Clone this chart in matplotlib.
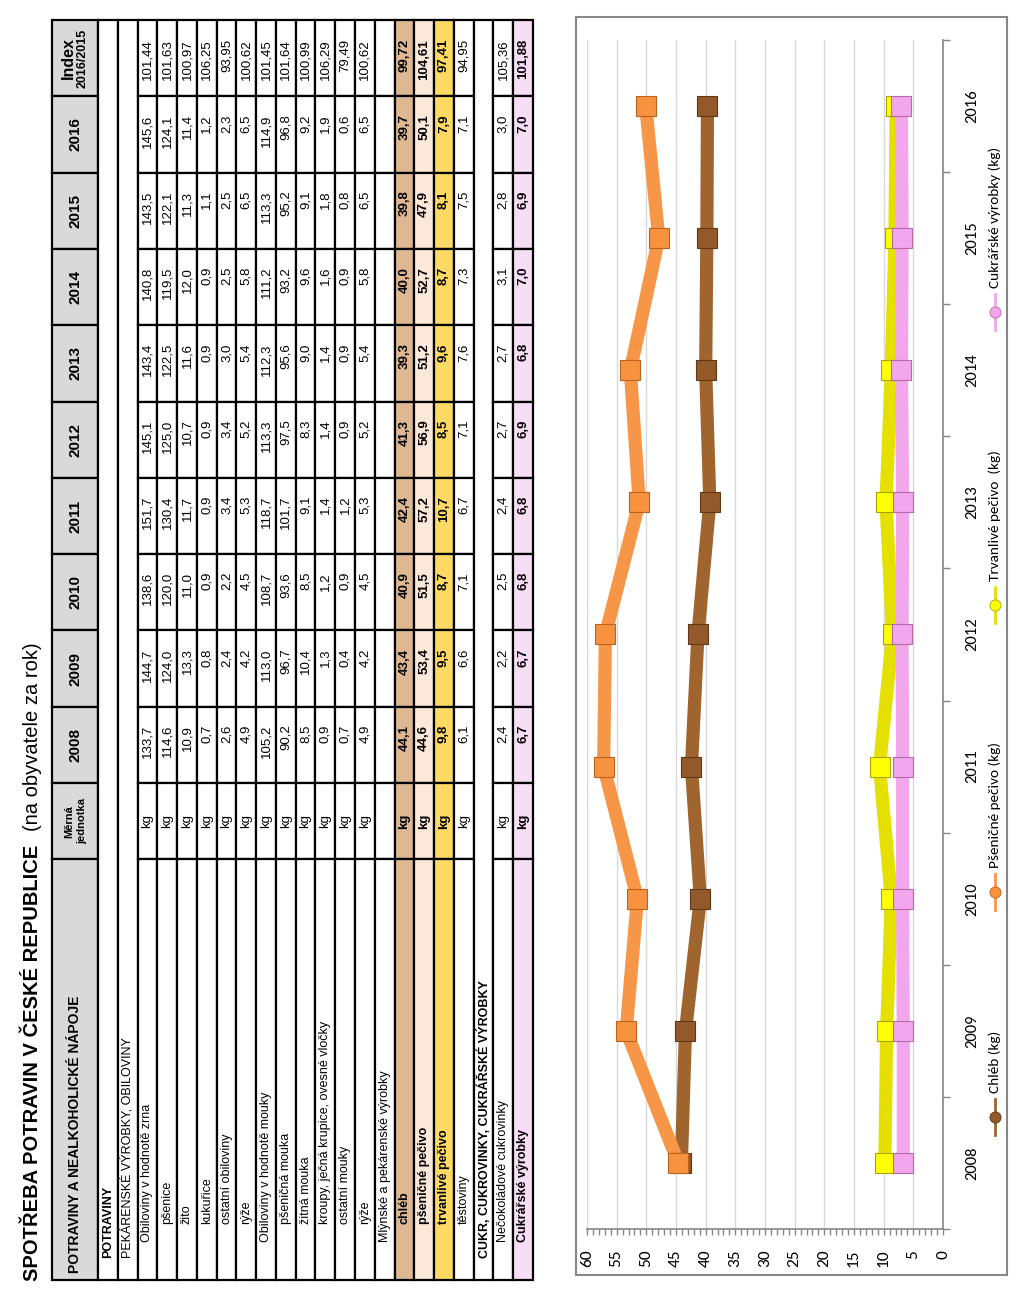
import matplotlib
matplotlib.use('Agg')
import matplotlib.pyplot as plt
from matplotlib import font_manager
from matplotlib.patches import Rectangle
from matplotlib.lines import Line2D
from matplotlib.ticker import MultipleLocator, FixedLocator

installed = {f.name for f in font_manager.fontManager.ttflist}
NARROW = 'Liberation Sans Narrow' if 'Liberation Sans Narrow' in installed else 'Liberation Sans'
CHART_FONT = 'Carlito' if 'Carlito' in installed else 'Lato'

# --- data -----------------------------------------------------------------
years = [2008, 2009, 2010, 2011, 2012, 2013, 2014, 2015, 2016]

chleb = [44.1, 43.4, 40.9, 42.4, 41.3, 39.3, 40.0, 39.8, 39.7]
psenicne_pecivo = [44.6, 53.4, 51.5, 57.2, 56.9, 51.2, 52.7, 47.9, 50.1]
trvanlive_pecivo = [9.8, 9.5, 8.7, 10.7, 8.5, 9.6, 8.7, 8.1, 7.9]
cukrarske_vyrobky = [6.7, 6.7, 6.8, 6.8, 6.9, 6.8, 7.0, 6.9, 7.0]

series_names = ['Chléb (kg)', 'Pšeničné pečivo (kg)', 'Trvanlivé pečivo  (kg)', 'Cukrářské výrobky (kg)']

row_labels = ['POTRAVINY', 'PEKÁRENSKÉ VÝROBKY, OBILOVINY', 'Obiloviny v hodnotě zrna', 'pšenice', 'žito',
              'kukuřice', 'ostatní obiloviny', 'rýže', 'Obiloviny v hodnotě mouky', 'pšeničná mouka',
              'žitná mouka', 'kroupy, ječná krupice, ovesné vločky', 'ostatní mouky', 'rýže',
              'Mlýnské a pekárenské výrobky', 'chléb', 'pšeničné pečivo', 'trvanlivé pečivo', 'těstoviny',
              'CUKR, CUKROVINKY, CUKRÁŘSKÉ VÝROBKY', 'Nečokoládové cukrovinky', 'Cukrářské výrobky']
row_indent = [0, 0, 1, 2, 2, 2, 2, 2, 1, 2, 2, 2, 2, 2, 1, 2, 2, 2, 2, 0, 1, 1]
row_values = [
    None, None,
    [133.7, 144.7, 138.6, 151.7, 145.1, 143.4, 140.8, 143.5, 145.6],
    [114.6, 124.0, 120.0, 130.4, 125.0, 122.5, 119.5, 122.1, 124.1],
    [10.9, 13.3, 11.0, 11.7, 10.7, 11.6, 12.0, 11.3, 11.4],
    [0.7, 0.8, 0.9, 0.9, 0.9, 0.9, 0.9, 1.1, 1.2],
    [2.6, 2.4, 2.2, 3.4, 3.4, 3.0, 2.5, 2.5, 2.3],
    [4.9, 4.2, 4.5, 5.3, 5.2, 5.4, 5.8, 6.5, 6.5],
    [105.2, 113.0, 108.7, 118.7, 113.3, 112.3, 111.2, 113.3, 114.9],
    [90.2, 96.7, 93.6, 101.7, 97.5, 95.6, 93.2, 95.2, 96.8],
    [8.5, 10.4, 8.5, 9.1, 8.3, 9.0, 9.6, 9.1, 9.2],
    [0.9, 1.3, 1.2, 1.4, 1.4, 1.4, 1.6, 1.8, 1.9],
    [0.7, 0.4, 0.9, 1.2, 0.9, 0.9, 0.9, 0.8, 0.6],
    [4.9, 4.2, 4.5, 5.3, 5.2, 5.4, 5.8, 6.5, 6.5],
    None,
    chleb, psenicne_pecivo, trvanlive_pecivo,
    [6.1, 6.6, 7.1, 6.7, 7.1, 7.6, 7.3, 7.5, 7.1],
    None,
    [2.4, 2.2, 2.5, 2.4, 2.7, 2.7, 3.1, 2.8, 3.0],
    cukrarske_vyrobky,
]
row_index = [None, None, 101.44, 101.63, 100.97, 106.25, 93.95, 100.62, 101.45, 101.64, 100.99, 106.29,
             79.49, 100.62, None, 99.72, 104.61, 97.41, 94.95, None, 105.36, 101.88]
merged_rows = [0, 1, 19]
bold_rows = [0, 15, 16, 17, 19, 21]
row_fill = {15: '#DDB892', 16: '#FCE8D8', 17: '#FFD966', 21: '#F8DDF6'}


def cz(v, nd=1):
    return f'{v:.{nd}f}'.replace('.', ',')


fig = plt.figure(figsize=(10.24, 12.96), dpi=100)

# full-page layer in pixel units for the rotated table, title and legend
page = fig.add_axes([0, 0, 1, 1], zorder=0)
page.set_xlim(0, 1024)
page.set_ylim(1296, 0)
page.axis('off')

# table geometry (page is rotated 90 degrees)
x_head0, x_head1 = 52, 98
row_h = 19.77
col_w = 76.3
y_top = 20
y_bottom = 1280
col_edges = [y_top + k * col_w for k in range(12)]  # index, 2016..2008, unit
unit_y0, unit_y1 = col_edges[10], col_edges[11]
label_y0 = col_edges[11]

lw = 1.6
# header column
head_cells = [(col_edges[k], col_edges[k + 1]) for k in range(11)] + [(label_y0, y_bottom)]
for y0, y1 in head_cells:
    page.add_patch(Rectangle((x_head0, y0), x_head1 - x_head0, y1 - y0, facecolor='#D9D9D9',
                             edgecolor='black', lw=lw))
hx = (x_head0 + x_head1) / 2
page.text(hx, y_bottom - 7, 'POTRAVINY A NEALKOHOLICKÉ NÁPOJE', rotation=90, rotation_mode='anchor',
          ha='left', va='center', fontsize=10, fontweight='bold', family=NARROW)
page.text(hx - 6, (unit_y0 + unit_y1) / 2, 'Měrná', rotation=90, rotation_mode='anchor',
          ha='center', va='center', fontsize=8, fontweight='bold', family=NARROW)
page.text(hx + 7, (unit_y0 + unit_y1) / 2, 'jednotka', rotation=90, rotation_mode='anchor',
          ha='center', va='center', fontsize=8, fontweight='bold', family=NARROW)
for j, yr in enumerate(years):
    c = 9 - j
    page.text(hx, (col_edges[c] + col_edges[c + 1]) / 2, str(yr), rotation=90, rotation_mode='anchor',
              ha='center', va='center', fontsize=11, fontweight='bold', family=NARROW)
page.text(hx - 7, (col_edges[0] + col_edges[1]) / 2, 'Index', rotation=90, rotation_mode='anchor',
          ha='center', va='center', fontsize=11.5, fontweight='bold', family=NARROW)
page.text(hx + 8, (col_edges[0] + col_edges[1]) / 2, '2016/2015', rotation=90, rotation_mode='anchor',
          ha='center', va='center', fontsize=9, fontweight='bold', family=NARROW)

indent_pad = [22, 38, 56]
for i, label in enumerate(row_labels):
    x0 = x_head1 + i * row_h
    xc = x0 + row_h / 2
    fill = row_fill.get(i, 'white')
    weight = 'bold' if i in bold_rows else 'normal'
    if i in merged_rows:
        page.add_patch(Rectangle((x0, y_top), row_h, y_bottom - y_top, facecolor=fill,
                                 edgecolor='black', lw=lw))
    else:
        cells = [(col_edges[k], col_edges[k + 1]) for k in range(11)] + [(label_y0, y_bottom)]
        for y0, y1 in cells:
            page.add_patch(Rectangle((x0, y0), row_h, y1 - y0, facecolor=fill, edgecolor='black', lw=lw))
    page.text(xc, y_bottom - indent_pad[row_indent[i]], label, rotation=90, rotation_mode='anchor',
              ha='left', va='center', fontsize=9, fontweight=weight, family=NARROW)
    vals = row_values[i]
    if vals is None:
        continue
    page.text(xc, (unit_y0 + unit_y1) / 2, 'kg', rotation=90, rotation_mode='anchor',
              ha='center', va='center', fontsize=9.5, fontweight=weight, family=NARROW)
    for j, v in enumerate(vals):
        c = 9 - j
        page.text(xc, col_edges[c] + 18, cz(v), rotation=90, rotation_mode='anchor',
                  ha='right', va='center', fontsize=9.5, fontweight=weight, family=NARROW)
    page.text(xc, col_edges[0] + 19, cz(row_index[i], 2), rotation=90, rotation_mode='anchor',
              ha='right', va='center', fontsize=9.5, fontweight=weight, family=NARROW)

# title: bold part, then the note right after it
title_main = page.text(33, 1281, 'SPOTŘEBA POTRAVIN V ČESKÉ REPUBLICE', rotation=90, rotation_mode='anchor',
                       ha='left', va='center', fontsize=14.5, fontweight='bold', family=NARROW)
renderer = fig.canvas.get_renderer()
bb = title_main.get_window_extent(renderer)
title_len = bb.height  # pixels along the rotated direction
page.text(33, 1281 - title_len - 14, '(na obyvatele za rok)', rotation=90, rotation_mode='anchor',
          ha='left', va='center', fontsize=14.5, family=NARROW)

# chart frame
page.add_patch(Rectangle((576, 17), 431, 1258, facecolor='none', edgecolor='#878787', lw=1.5))

# --- chart (rotated: values run right-to-left, years bottom-to-top) ---------
ax = fig.add_axes([587 / 1024, 67 / 1296, 356 / 1024, 1189 / 1296], zorder=1)
ax.patch.set_alpha(0)
pos = list(range(len(years)))

styles = [
    (chleb, '#A0652F', '#94592A', '#5E3716'),
    (psenicne_pecivo, '#F79646', '#F7923F', '#B8641F'),
    (trvanlive_pecivo, '#E6E000', '#FFFF00', '#A8A400'),
    (cukrarske_vyrobky, '#F2A6EC', '#F2A6EC', '#B569AE'),
]
for vals, lc, mc, ec in styles:
    ax.plot(vals, pos, color=lc, lw=9.5, solid_joinstyle='miter', zorder=3)
    ax.plot(vals, pos, ls='none', marker='s', ms=14, mfc=mc, mec=ec, mew=0.8, zorder=4)

ax.set_xlim(60, 0)
ax.set_ylim(-0.5, len(years) - 0.5)
ax.xaxis.set_major_locator(MultipleLocator(5))
ax.xaxis.set_minor_locator(MultipleLocator(1))
ax.grid(axis='x', which='major', color='#D9D9D9', lw=1)
ax.set_axisbelow(True)
for s in ['top', 'left']:
    ax.spines[s].set_visible(False)
for s in ['bottom', 'right']:
    ax.spines[s].set_color('#868686')
    ax.spines[s].set_linewidth(1.2)

ax.tick_params(axis='x', which='both', direction='out', color='#868686', length=4, width=1)
ax.tick_params(axis='x', which='major', labelsize=12.5, pad=11)
for t in ax.get_xticklabels():
    t.set_rotation(90)
    t.set_family(CHART_FONT)

ax.yaxis.tick_right()
ax.set_yticks(pos)
ax.set_yticklabels([str(y) for y in years], rotation=90, va='center', family=CHART_FONT)
ax.yaxis.set_minor_locator(FixedLocator([p - 0.5 for p in pos] + [pos[-1] + 0.5]))
ax.tick_params(axis='y', which='major', length=0, labelsize=12, pad=16)
ax.tick_params(axis='y', which='minor', length=5, color='#868686', width=1, right=True, left=False)

# legend (rotated, drawn on the page layer)
legend_y = [1117, 892, 605, 312]
for (vals, lc, mc, ec), name, ly in zip(styles, series_names, legend_y):
    page.add_line(Line2D([995, 995], [ly + 18, ly - 18], color=lc, lw=2))
    page.plot([995], [ly], marker='o', ms=8, mfc=mc, mec=ec, mew=0.6)
    page.text(995, ly - 24, name, rotation=90, rotation_mode='anchor', ha='left', va='center',
              fontsize=11, family=CHART_FONT)

fig.savefig('out.png', dpi=100)
